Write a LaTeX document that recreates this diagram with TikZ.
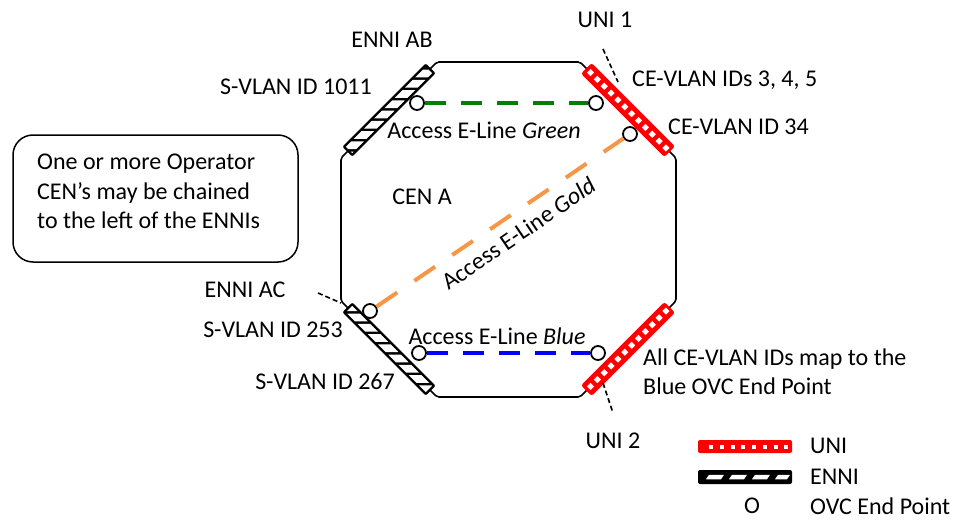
\documentclass[tikz,border=0pt]{standalone}
\usepackage{fontspec}
\setmainfont{Carlito}
\definecolor{lgreen}{RGB}{0,128,0}
\definecolor{lgold}{RGB}{247,150,70}
\definecolor{lblue}{RGB}{0,0,255}
\definecolor{lred}{RGB}{255,0,0}
\newcommand\ennibar[4]{%
 \begin{scope}[shift={(#1,#2)},rotate=#3]
  \fill[black,rounded corners=2pt] (-59,-7) rectangle (59,7);
  \begin{scope}
   \clip (-56.5,-4.5) rectangle (56.5,4.5);
   \foreach \i in {-1,...,8}{\fill[white] ({-60+\i*14.5},-4.5) -- ++(11,0) -- ++(#4*9,9) -- ++(-11,0) -- cycle;}
  \end{scope}
 \end{scope}}
\newcommand\unibar[3]{%
 \begin{scope}[shift={(#1,#2)},rotate=#3]
  \fill[lred,rounded corners=2.5pt] (-59,-7.5) rectangle (59,7.5);
  \foreach \i in {0,...,11}{\fill[white] ({-55.5+\i*9.7},-2.5) rectangle ++(5,5);}
 \end{scope}}
\begin{document}
\begin{tikzpicture}[x=1pt,y=-1pt,
  lbl/.style={inner sep=0pt, font=\fontsize{24}{29.5}\selectfont},
  ep/.style={circle, draw, line width=1.8pt, fill=white, minimum size=14pt, inner sep=0pt},
  conn/.style={line width=4pt},
  leader/.style={line width=1.6pt, dash pattern=on 5pt off 3pt},
  ]
\useasboundingbox (0,0) rectangle (968,519);
% octagon
\draw[line width=1.6pt, rounded corners=2pt] (437,62) -- (580,62) -- (676,158) -- (676,301) -- (580,397) -- (437,397) -- (341,301) -- (341,158) -- cycle;
% end points
\node[ep] (gL) at (417,103) {};
\node[ep] (gR) at (596,103) {};
\node[ep] (oL) at (370,311) {};
\node[ep] (oR) at (630,134) {};
\node[ep] (bL) at (419,353) {};
\node[ep] (bR) at (598,353) {};
% connectors
\draw[conn, lgreen, dash pattern=on 21pt off 15pt] (gL) -- (gR);
\draw[conn, lblue, dash pattern=on 21pt off 15pt] (bL) -- (bR);
\draw[conn, lgold, dash pattern=on 25pt off 20.8pt] (oL) -- node[lbl, black, sloped, pos=0.53, below=9pt] {Access E-Line \textit{Gold}} (oR);
% bars
\ennibar{389}{110}{45}{1}
\unibar{628}{110}{-45}
\unibar{628}{349}{45}
\ennibar{389}{349}{-45}{-1}
% leaders
\coordinate (u1a) at (603,49); \coordinate (u1b) at (618,82);
\coordinate (aca) at (318,293); \coordinate (acb) at (341,303);
\coordinate (u2a) at (603,383); \coordinate (u2b) at (613,413);
\draw[leader] (u1a) -- (u1b);
\draw[leader] (aca) -- (acb);
\draw[leader] (u2a) -- (u2b);
% labels
\node[lbl] (tENNIAB) at (392,40) {ENNI AB};
\node[lbl] (tUNI1) at (605,20) {UNI 1};
\node[lbl, anchor=east] (tS1011) at (372,87) {S-VLAN ID 1011};
\node[lbl, anchor=west] (tCE345) at (632,80) {CE-VLAN IDs 3, 4, 5};
\node[lbl] (tGreen) at (484,130) {Access E-Line \textit{Green}};
\node[lbl, anchor=west] (tCE34) at (668,127) {CE-VLAN ID 34};
\node[lbl] (tCENA) at (422,197) {CEN A};
\node[lbl] (tENNIAC) at (245,290) {ENNI AC};
\node[lbl, anchor=east] (tS253) at (343,330) {S-VLAN ID 253};
\node[lbl] (tBlue) at (497,336) {Access E-Line \textit{Blue}};
\node[lbl, anchor=west] (tAll) at (643,359) {All CE-VLAN IDs map to the};
\node[lbl, anchor=west] (tAll2) at (643,386) {Blue OVC End Point};
\node[lbl, anchor=east] (tS267) at (395,381) {S-VLAN ID 267};
\node[lbl] (tUNI2) at (613,441) {UNI 2};
% note box
\draw[line width=1.5pt, rounded corners=20pt] (13,135) rectangle (298,262);
\node[lbl, align=flush left, anchor=north west] (note) at (37,154)
  {One or more Operator\\CEN’s may be chained\\to the left of the ENNIs};
% legend
\fill[lred, rounded corners=2pt] (698,440) rectangle (792,453);
\foreach \i in {0,...,7}{\fill[white] ({709.3+\i*10.7},444.5) rectangle ++(4,4);}
\fill[black, rounded corners=2pt] (698,470) rectangle (792,484);
\foreach \a/\w in {706/15,729/15,752/15,775/12}{\fill[white] (\a,479.25) -- ++(\w,0) -- ++(3,-4.5) -- ++(-\w,0) -- cycle;}
\node[lbl, anchor=west] (lUNI) at (810,446) {UNI};
\node[lbl, anchor=west] (lENNI) at (810,477) {ENNI};
\node[lbl] (lO) at (752,506) {O};
\node[lbl, anchor=west] (lOVC) at (810,506) {OVC End Point};
\end{tikzpicture}
\end{document}
